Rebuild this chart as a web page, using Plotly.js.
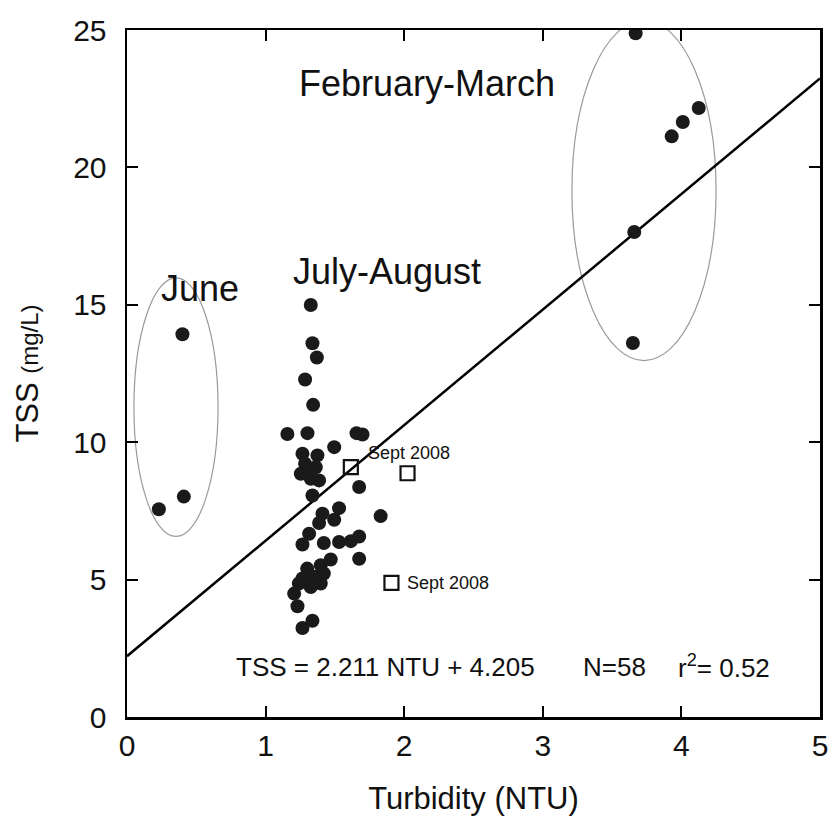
<!DOCTYPE html>
<html>
<head>
<meta charset="utf-8">
<script src="https://cdn.plot.ly/plotly-3.0.1.min.js"></script>
<style>html,body{margin:0;padding:0;background:#fff;}#chart{width:830px;height:818px;}</style>
</head>
<body>
<div id="chart"></div>
<script>
// June points
var juneX = [0.40, 0.41, 0.23];
var juneY = [13.93, 8.02, 7.56];
// February-March points
var febX = [3.67, 4.125, 4.01, 3.93, 3.66, 3.65];
var febY = [24.88, 22.16, 21.65, 21.13, 17.65, 13.61];
// July-August points
var julX = [1.326, 1.338, 1.370, 1.285, 1.343, 1.157, 1.302, 1.656, 1.699, 1.495,
            1.266, 1.374, 1.285, 1.362, 1.254, 1.326, 1.386, 1.675, 1.338, 1.530,
            1.410, 1.495, 1.386, 1.830, 1.314, 1.266, 1.420, 1.530, 1.615, 1.675,
            1.675, 1.470, 1.398, 1.300, 1.420, 1.350, 1.266, 1.398, 1.326, 1.240,
            1.206, 1.230, 1.338, 1.266, 1.300, 1.350];
var julY = [14.99, 13.60, 13.08, 12.28, 11.36, 10.30, 10.33, 10.33, 10.28, 9.82,
            9.58, 9.52, 9.22, 9.09, 8.85, 8.67, 8.61, 8.37, 8.06, 7.60,
            7.40, 7.18, 7.06, 7.31, 6.67, 6.28, 6.33, 6.37, 6.40, 6.57,
            5.76, 5.73, 5.52, 5.40, 5.22, 5.10, 5.04, 4.86, 4.73, 4.86,
            4.49, 4.03, 3.50, 3.24, 8.90, 4.95];
// September 2008 (open squares)
var septX = [1.615, 2.024, 1.908];
var septY = [9.09, 8.87, 4.88];
// Regression line endpoints
var lineX = [0, 5];
var lineY = [2.211, 23.236];
// Tick values
var xTicks = [0, 1, 2, 3, 4, 5];
var yTicks = [0, 5, 10, 15, 20, 25];
// Group ellipses [x0, x1, y0, y1]
var juneEllipse = [0.05, 0.657, 6.57, 15.98];
var febEllipse = [3.21, 4.25, 12.97, 25.35];

var dotColor = '#1a1a1a';
var sans = '"Liberation Sans", Arial, Helvetica, sans-serif';

var traces = [
  {x: lineX, y: lineY, mode: 'lines', line: {color: '#000', width: 2.5}, hoverinfo: 'skip'},
  {x: juneX.concat(febX, julX), y: juneY.concat(febY, julY), mode: 'markers', type: 'scatter',
   marker: {color: dotColor, size: 14, line: {width: 0}}},
  {x: septX, y: septY, mode: 'markers', type: 'scatter',
   marker: {symbol: 'square-open', color: '#111', size: 14, line: {width: 2.2}}}
];

function ell(e) {
  return {type: 'circle', xref: 'x', yref: 'y', x0: e[0], x1: e[1], y0: e[2], y1: e[3],
          line: {color: '#9a9a9a', width: 1.2}, layer: 'below'};
}

var annFont = {family: sans, size: 36, color: '#111'};
var eqFont = {family: sans, size: 26, color: '#111'};
var layout = {
  width: 830, height: 818,
  margin: {l: 127, r: 10, t: 30, b: 101},
  paper_bgcolor: '#fff', plot_bgcolor: '#fff',
  showlegend: false,
  xaxis: {
    range: [0, 5], tickvals: xTicks, ticktext: xTicks.map(String),
    showgrid: false, zeroline: false, showline: true, mirror: 'ticks',
    linecolor: '#000', linewidth: 2.5, ticks: 'inside', ticklen: 11, tickwidth: 2, tickcolor: '#000',
    tickfont: {family: sans, size: 30, color: '#111'},
    title: {text: 'Turbidity (NTU)', font: {family: sans, size: 31, color: '#111'}, standoff: 27}
  },
  yaxis: {
    range: [0, 25], tickvals: yTicks, ticktext: yTicks.map(String),
    showgrid: false, zeroline: false, showline: true, mirror: 'ticks',
    linecolor: '#000', linewidth: 2.5, ticks: 'inside', ticklen: 11, tickwidth: 2, tickcolor: '#000',
    ticklabelstandoff: 12,
    tickfont: {family: sans, size: 30, color: '#111'},
    title: {text: 'TSS <span style="font-size:24px">(mg/L)</span>', font: {family: sans, size: 31, color: '#111'}, standoff: 26}
  },
  shapes: [ell(juneEllipse), ell(febEllipse)],
  annotations: [
    {x: 0.527, y: 15.6, text: 'June', showarrow: false, font: annFont, xref: 'x', yref: 'y'},
    {x: 1.877, y: 16.2, text: 'July-August', showarrow: false, font: annFont, xref: 'x', yref: 'y'},
    {x: 2.166, y: 23.07, text: 'February-March', showarrow: false, font: annFont, xref: 'x', yref: 'y'},
    {x: 1.724, y: 9.6, text: 'Sept 2008', showarrow: false, xanchor: 'left', font: {family: sans, size: 18, color: '#111'}, xref: 'x', yref: 'y'},
    {x: 2.007, y: 4.87, text: 'Sept 2008', showarrow: false, xanchor: 'left', font: {family: sans, size: 18, color: '#111'}, xref: 'x', yref: 'y'},
    {x: 1.863, y: 1.82, text: 'TSS = 2.211 NTU + 4.205', showarrow: false, font: eqFont, xref: 'x', yref: 'y'},
    {x: 3.516, y: 1.82, text: 'N=58', showarrow: false, font: eqFont, xref: 'x', yref: 'y'},
    {x: 4.31, y: 1.82, text: 'r<sup>2</sup>= 0.52', showarrow: false, font: eqFont, xref: 'x', yref: 'y'}
  ]
};

Plotly.newPlot('chart', traces, layout, {displayModeBar: false, staticPlot: true});
</script>
</body>
</html>
